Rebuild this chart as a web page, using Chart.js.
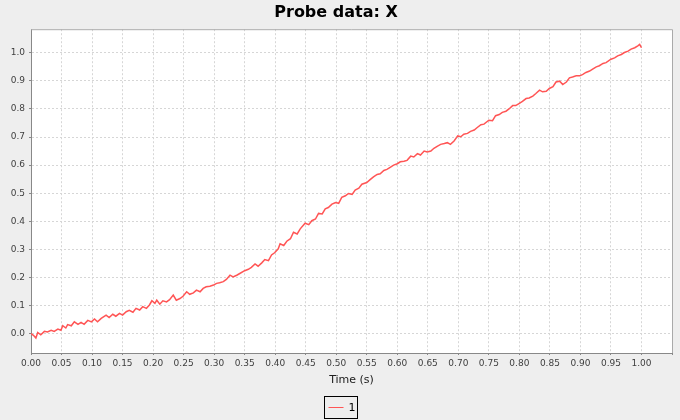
<!DOCTYPE html>
<html>
<head>
<meta charset="utf-8">
<title>Probe data: X</title>
<script src="https://cdn.jsdelivr.net/npm/chart.js@4.4.1/dist/chart.umd.min.js"></script>
<style>
  html, body { margin: 0; padding: 0; background: #eeeeee; }
  #wrap { width: 680px; height: 420px; }
</style>
</head>
<body>
<div id="wrap"><canvas id="probeChart" width="680" height="420"></canvas></div>
<script>
// DATA
const seriesName = "1";
const times = [
  0.000, 0.004, 0.008, 0.011, 0.016, 0.022, 0.027, 0.033, 0.038, 0.044,
  0.049, 0.052, 0.057, 0.060, 0.066, 0.071, 0.077, 0.082, 0.087, 0.093,
  0.099, 0.104, 0.109, 0.115, 0.123, 0.128, 0.134, 0.139, 0.145, 0.150,
  0.156, 0.161, 0.167, 0.172, 0.178, 0.183, 0.189, 0.194, 0.198, 0.203,
  0.206, 0.211, 0.216, 0.222, 0.227, 0.233, 0.238, 0.244, 0.249, 0.255,
  0.260, 0.266, 0.271, 0.277, 0.282, 0.287, 0.293, 0.299, 0.304, 0.309,
  0.315, 0.320, 0.326, 0.331, 0.337, 0.342, 0.350, 0.356, 0.361, 0.367,
  0.372, 0.378, 0.383, 0.389, 0.394, 0.399,
  0.405, 0.408, 0.414, 0.419, 0.425, 0.430, 0.436, 0.441, 0.449, 0.455,
  0.460, 0.466, 0.471, 0.477, 0.482, 0.487, 0.493, 0.499, 0.504, 0.509,
  0.515, 0.520, 0.526, 0.531, 0.537, 0.542, 0.550, 0.556, 0.561, 0.567,
  0.572, 0.578, 0.583, 0.589, 0.594, 0.600,
  0.605, 0.611, 0.616, 0.622, 0.627, 0.633, 0.638, 0.644, 0.649, 0.655,
  0.660, 0.666, 0.671, 0.677, 0.682, 0.687, 0.693, 0.699, 0.704, 0.709,
  0.715, 0.720, 0.726, 0.731, 0.737, 0.742, 0.750, 0.756, 0.761, 0.767,
  0.772, 0.778, 0.783, 0.789, 0.794, 0.800,
  0.805, 0.811, 0.816, 0.822, 0.827, 0.833, 0.838, 0.844, 0.849, 0.855,
  0.860, 0.866, 0.871, 0.877, 0.882, 0.887, 0.893, 0.899, 0.904, 0.909,
  0.915, 0.920, 0.926, 0.931, 0.937, 0.942, 0.950, 0.956, 0.961, 0.967,
  0.972, 0.978, 0.983, 0.989, 0.994, 0.997, 1.000
];
const probeX = [
  0.000, -0.006, -0.016, 0.004, -0.004, 0.008, 0.006, 0.012, 0.008, 0.016,
  0.012, 0.028, 0.020, 0.032, 0.028, 0.042, 0.033, 0.040, 0.033, 0.047,
  0.042, 0.052, 0.042, 0.054, 0.066, 0.057, 0.069, 0.062, 0.072, 0.066,
  0.078, 0.083, 0.076, 0.090, 0.084, 0.096, 0.090, 0.102, 0.117, 0.108,
  0.119, 0.105, 0.117, 0.113, 0.121, 0.137, 0.119, 0.125, 0.133, 0.149,
  0.140, 0.145, 0.155, 0.149, 0.161, 0.167, 0.169, 0.173, 0.179, 0.181,
  0.185, 0.193, 0.208, 0.202, 0.208, 0.214, 0.224, 0.229, 0.236, 0.248,
  0.240, 0.252, 0.264, 0.260, 0.280, 0.288,
  0.302, 0.320, 0.314, 0.329, 0.338, 0.361, 0.355, 0.373, 0.393, 0.388,
  0.402, 0.408, 0.428, 0.426, 0.444, 0.449, 0.461, 0.467, 0.464, 0.485,
  0.491, 0.499, 0.496, 0.511, 0.518, 0.532, 0.538, 0.549, 0.558, 0.567,
  0.569, 0.581, 0.585, 0.593, 0.600, 0.605,
  0.612, 0.614, 0.617, 0.632, 0.629, 0.641, 0.636, 0.650, 0.647, 0.650,
  0.660, 0.668, 0.674, 0.677, 0.680, 0.674, 0.686, 0.704, 0.701, 0.710,
  0.713, 0.720, 0.725, 0.734, 0.744, 0.746, 0.760, 0.758, 0.776, 0.780,
  0.788, 0.792, 0.800, 0.812, 0.812, 0.820,
  0.827, 0.837, 0.839, 0.846, 0.855, 0.867, 0.861, 0.863, 0.873, 0.879,
  0.896, 0.899, 0.887, 0.896, 0.911, 0.914, 0.918, 0.918, 0.923, 0.930,
  0.935, 0.942, 0.950, 0.954, 0.962, 0.965, 0.977, 0.982, 0.989, 0.994,
  1.001, 1.006, 1.013, 1.018, 1.025, 1.030, 1.018
];
const xRange = [0, 1.05];
const yRange = [-0.069, 1.084];
const xStep = 0.05;
const yStep = 0.1;

const FONT = "'DejaVu Sans', 'Liberation Sans', sans-serif";
const RED = "#ff5555";

// BACKGROUND + PLOT OUTLINE
const frame = {
  id: "frame",
  beforeDraw(chart) {
    const { ctx, chartArea: a } = chart;
    ctx.save();
    ctx.fillStyle = "#eeeeee";
    ctx.fillRect(0, 0, chart.width, chart.height);
    ctx.fillStyle = "#ffffff";
    ctx.fillRect(a.left, a.top, a.right - a.left, a.bottom - a.top);
    ctx.restore();
  },
  afterDraw(chart) {
    const { ctx, chartArea: a } = chart;
    ctx.save();
    ctx.strokeStyle = "#aaaaaa";
    ctx.lineWidth = 1;
    ctx.beginPath();
    ctx.moveTo(a.left, a.top + 0.5);
    ctx.lineTo(a.right + 0.5, a.top + 0.5);
    ctx.lineTo(a.right + 0.5, a.bottom);
    ctx.stroke();
    ctx.restore();
  }
};

// BOXED LEGEND (JFreeChart style)
const boxLegend = {
  id: "boxLegend",
  afterDraw(chart) {
    const { ctx } = chart;
    const ds = chart.data.datasets[0];
    ctx.save();
    ctx.font = "11px " + FONT;
    const tw = ctx.measureText(ds.label).width;
    const w = 4 + 15 + 5 + tw + 2;
    const left = Math.round(chart.width / 2 - w / 2) + 0.5;
    const top = 396.5;
    const h = 22;
    ctx.strokeStyle = "#000000";
    ctx.lineWidth = 1;
    ctx.strokeRect(left, top, w, h);
    ctx.strokeStyle = ds.borderColor;
    ctx.beginPath();
    ctx.moveTo(left + 4, top + 11);
    ctx.lineTo(left + 19, top + 11);
    ctx.stroke();
    ctx.fillStyle = "#000000";
    ctx.textBaseline = "middle";
    ctx.fillText(ds.label, left + 24, top + 11.5);
    ctx.restore();
  }
};

// CHART
const ctx = document.getElementById("probeChart");
new Chart(ctx, {
  type: "line",
  data: {
    datasets: [{
      label: seriesName,
      data: times.map((t, i) => ({ x: t, y: probeX[i] })),
      borderColor: RED,
      backgroundColor: RED,
      borderWidth: 1.5,
      pointRadius: 0,
      tension: 0,
      fill: false
    }]
  },
  options: {
    responsive: false,
    animation: false,
    devicePixelRatio: 1,
    layout: { padding: { left: 0, right: 8, top: 0, bottom: 32 } },
    plugins: {
      legend: { display: false },
      tooltip: { enabled: false },
      title: {
        display: true,
        text: "Probe data: X",
        color: "#000000",
        font: { family: FONT, size: 16, weight: "bold" },
        padding: { top: 3, bottom: 7 }
      }
    },
    scales: {
      x: {
        type: "linear",
        min: xRange[0],
        max: xRange[1],
        afterFit: s => { s.height = 35; },
        border: { display: true, color: "#888888", width: 1, dash: [2, 2] },
        grid: {
          color: c => (c.tick && c.tick.value > 1.001) ? "rgba(0,0,0,0)" : "#d6d6d6",
          lineWidth: 1,
          drawTicks: true,
          tickLength: 2,
          tickColor: "#888888"
        },
        ticks: {
          stepSize: xStep,
          includeBounds: false,
          autoSkip: false,
          maxRotation: 0,
          padding: 3,
          color: "#404040",
          font: { family: FONT, size: 9 },
          callback: v => v > 1.001 ? "" : Number(v).toFixed(2)
        },
        title: {
          display: true,
          text: "Time (s)",
          color: "#202020",
          font: { family: FONT, size: 11 },
          padding: { top: 0, bottom: 1 }
        }
      },
      y: {
        type: "linear",
        min: yRange[0],
        max: yRange[1],
        afterFit: s => { s.width = 31; },
        border: { display: true, color: "#888888", width: 1, dash: [2, 2] },
        grid: {
          color: "#d6d6d6",
          lineWidth: 1,
          drawTicks: true,
          tickLength: 2,
          tickColor: "#888888"
        },
        ticks: {
          stepSize: yStep,
          includeBounds: false,
          autoSkip: false,
          padding: 4,
          color: "#404040",
          font: { family: FONT, size: 9 },
          callback: v => Number(v).toFixed(1)
        }
      }
    }
  },
  plugins: [frame, boxLegend]
});
</script>
</body>
</html>
